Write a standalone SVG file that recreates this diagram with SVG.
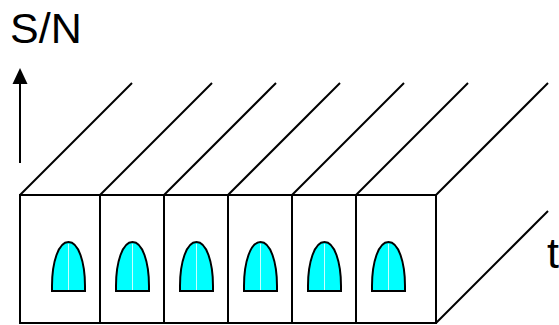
<svg xmlns="http://www.w3.org/2000/svg" width="559" height="325" viewBox="0 0 559 325">
  <defs>
    <style>
      .ln { stroke: #000; stroke-width: 2; fill: none; }
      .cell { fill: #fff; stroke: #000; stroke-width: 2; }
      .pulse { fill: #00ffff; stroke: #000; stroke-width: 2; }
      .mid { stroke: #c8ffff; stroke-width: 1; }
      .lbl { font-family: "Liberation Sans", Arial, sans-serif; font-size: 43px; fill: #000; }
    </style>
    <path id="pulseShape" d="M-16.5,49 L-16.5,44 C-16.5,20 -10,0 0,0 C10,0 16.5,20 16.5,44 L16.5,49 Z"/>
  </defs>

  <rect width="559" height="325" fill="#fff"/>

  <!-- axis labels -->
  <text class="lbl" x="10" y="43">S/N</text>
  <text class="lbl" x="547" y="268">t</text>

  <!-- S/N axis arrow -->
  <g id="axis">
    <line class="ln" x1="20" y1="163" x2="20" y2="80"/>
    <path d="M20,68 L27.5,84 L12.5,84 Z" fill="#000"/>
  </g>

  <!-- receding edges of the block -->
  <g id="connectors">
    <line class="ln" x1="20" y1="195" x2="132" y2="83"/>
    <line class="ln" x1="100" y1="195" x2="212" y2="83"/>
    <line class="ln" x1="164" y1="195" x2="276" y2="83"/>
    <line class="ln" x1="228" y1="195" x2="340" y2="83"/>
    <line class="ln" x1="292" y1="195" x2="404" y2="83"/>
    <line class="ln" x1="356" y1="195" x2="468" y2="83"/>
    <line class="ln" x1="436" y1="195" x2="548" y2="83"/>
    <line class="ln" x1="436" y1="323" x2="548" y2="211"/>
  </g>

  <!-- front face cells, each holding a pulse -->
  <g id="cell1">
    <rect class="cell" x="20" y="195" width="80" height="128"/>
    <use href="#pulseShape" class="pulse" x="68.5" y="242"/>
    <line class="mid" x1="68.5" y1="244" x2="68.5" y2="290"/>
  </g>
  <g id="cell2">
    <rect class="cell" x="100" y="195" width="64" height="128"/>
    <use href="#pulseShape" class="pulse" x="132.5" y="242"/>
    <line class="mid" x1="132.5" y1="244" x2="132.5" y2="290"/>
  </g>
  <g id="cell3">
    <rect class="cell" x="164" y="195" width="64" height="128"/>
    <use href="#pulseShape" class="pulse" x="196.5" y="242"/>
    <line class="mid" x1="196.5" y1="244" x2="196.5" y2="290"/>
  </g>
  <g id="cell4">
    <rect class="cell" x="228" y="195" width="64" height="128"/>
    <use href="#pulseShape" class="pulse" x="260.5" y="242"/>
    <line class="mid" x1="260.5" y1="244" x2="260.5" y2="290"/>
  </g>
  <g id="cell5">
    <rect class="cell" x="292" y="195" width="64" height="128"/>
    <use href="#pulseShape" class="pulse" x="324.5" y="242"/>
    <line class="mid" x1="324.5" y1="244" x2="324.5" y2="290"/>
  </g>
  <g id="cell6">
    <rect class="cell" x="356" y="195" width="80" height="128"/>
    <use href="#pulseShape" class="pulse" x="388.5" y="242"/>
    <line class="mid" x1="388.5" y1="244" x2="388.5" y2="290"/>
  </g>
</svg>
